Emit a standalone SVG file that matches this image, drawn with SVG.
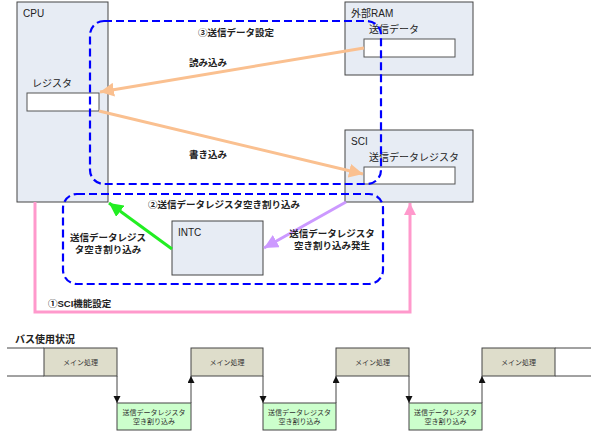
<svg xmlns="http://www.w3.org/2000/svg" width="597" height="435" viewBox="0 0 597 435">
<style>
text{font-family:"Liberation Sans","Noto Sans CJK JP",sans-serif;fill:#222}
.box{fill:#e7ecf4;stroke:#444;stroke-width:1}
.reg{fill:#fff;stroke:#555;stroke-width:1}
.lbl{font-size:10px}
.ann{font-size:9.5px;font-weight:bold}
.c{text-anchor:middle}
.dash{fill:none;stroke:#0000ff;stroke-width:2.2;stroke-dasharray:8 4}
.main{fill:#deddcb;stroke:#444;stroke-width:1}
.irq{fill:#ccffcc;stroke:#444;stroke-width:1}
.tl{font-size:7px;fill:#333}
.wire{fill:none;stroke:#444;stroke-width:1}
</style>
<defs>
<marker id="hOr" markerUnits="userSpaceOnUse" markerWidth="16" markerHeight="14" refX="14" refY="7" orient="auto"><path d="M0,0 L14,7 L0,14 Z" fill="#fac090"/></marker>
<marker id="hGr" markerUnits="userSpaceOnUse" markerWidth="16" markerHeight="14" refX="14" refY="7" orient="auto"><path d="M0,0 L14,7 L0,14 Z" fill="#22ee22"/></marker>
<marker id="hPu" markerUnits="userSpaceOnUse" markerWidth="16" markerHeight="14" refX="14" refY="7" orient="auto"><path d="M0,0 L14,7 L0,14 Z" fill="#cc99ff"/></marker>
<marker id="hPk" markerUnits="userSpaceOnUse" markerWidth="14" markerHeight="12" refX="12" refY="6" orient="auto"><path d="M0,0 L12,6 L0,12 Z" fill="#ff99cc"/></marker>
<marker id="hBk" markerUnits="userSpaceOnUse" markerWidth="8" markerHeight="8" refX="7" refY="3.5" orient="auto"><path d="M0,0 L7,3.5 L0,7 Z" fill="#111"/></marker>
</defs>

<g id="cpu">
<rect class="box" x="17" y="2" width="91" height="200"/>
<text class="lbl" x="23" y="17">CPU</text>
<text class="lbl" x="32" y="87">レジスタ</text>
<rect class="reg" x="27" y="93" width="72" height="18"/>
</g>
<g id="ram">
<rect class="box" x="345" y="2" width="128" height="73"/>
<text class="lbl" x="351" y="17">外部RAM</text>
<text class="lbl" x="369" y="33">送信データ</text>
<rect class="reg" x="364" y="39" width="91" height="18"/>
</g>
<g id="sci">
<rect class="box" x="345" y="130" width="128" height="72"/>
<text class="lbl" x="351" y="145">SCI</text>
<text class="lbl" x="369" y="161">送信データレジスタ</text>
<rect class="reg" x="364" y="167" width="91" height="17"/>
</g>
<g id="intc">
<rect class="box" x="172" y="221" width="91" height="54"/>
<text class="lbl" x="178" y="236">INTC</text>
</g>

<g id="connectors">
<line x1="364" y1="48" x2="100" y2="92" stroke="#fac090" stroke-width="3" marker-end="url(#hOr)"/>
<line x1="99" y1="111" x2="363" y2="174" stroke="#fac090" stroke-width="3" marker-end="url(#hOr)"/>
<line x1="172" y1="249" x2="109" y2="203" stroke="#22ee22" stroke-width="3" marker-end="url(#hGr)"/>
<line x1="346" y1="202" x2="264" y2="248" stroke="#cc99ff" stroke-width="3" marker-end="url(#hPu)"/>
<polyline points="35,202 35,312 410,312 410,203" fill="none" stroke="#ff99cc" stroke-width="3" marker-end="url(#hPk)"/>
</g>

<g id="group3">
<rect class="dash" x="90" y="21" width="291" height="163" rx="14" ry="14"/>
<text class="ann c" x="236" y="36">③送信データ設定</text>
<text class="ann c" x="208" y="66">読み込み</text>
<text class="ann c" x="208" y="158">書き込み</text>
</g>
<g id="group2">
<rect class="dash" x="63" y="194" width="320" height="90" rx="14" ry="14"/>
<text class="ann" x="148" y="208">②送信データレジスタ空き割り込み</text>
<text class="ann c" x="108" y="241">送信データレジス</text>
<text class="ann c" x="108" y="253">タ空き割り込み</text>
<text class="ann c" x="332" y="237">送信データレジスタ</text>
<text class="ann c" x="332" y="249">空き割り込み発生</text>
</g>
<text class="ann" x="48" y="307">①SCI機能設定</text>

<g id="timing">
<text x="15" y="343" style="font-size:10px;font-weight:bold">バス使用状況</text>
<line class="wire" x1="7" y1="348" x2="44" y2="348"/>
<line class="wire" x1="7" y1="376" x2="44" y2="376"/>
<rect class="main" x="44" y="348" width="73" height="28"/>
<rect class="irq" x="117" y="403" width="74" height="27"/>
<rect class="main" x="191" y="348" width="72" height="28"/>
<rect class="irq" x="263" y="403" width="73" height="27"/>
<rect class="main" x="336" y="348" width="73" height="28"/>
<rect class="irq" x="409" y="403" width="73" height="27"/>
<rect class="main" x="482" y="348" width="73" height="28"/>
<line class="wire" x1="555" y1="348" x2="591" y2="348"/>
<line class="wire" x1="555" y1="376" x2="591" y2="376"/>
<line class="wire" x1="117" y1="376" x2="117" y2="403" marker-end="url(#hBk)"/>
<line class="wire" x1="191" y1="403" x2="191" y2="376" marker-end="url(#hBk)"/>
<line class="wire" x1="263" y1="376" x2="263" y2="403" marker-end="url(#hBk)"/>
<line class="wire" x1="336" y1="403" x2="336" y2="376" marker-end="url(#hBk)"/>
<line class="wire" x1="409" y1="376" x2="409" y2="403" marker-end="url(#hBk)"/>
<line class="wire" x1="482" y1="403" x2="482" y2="376" marker-end="url(#hBk)"/>
<text class="tl c" x="80.5" y="365">メイン処理</text>
<text class="tl c" x="227" y="365">メイン処理</text>
<text class="tl c" x="372.5" y="365">メイン処理</text>
<text class="tl c" x="518.5" y="365">メイン処理</text>
<text class="tl c" x="154" y="414.5">送信データレジスタ</text>
<text class="tl c" x="154" y="424">空き割り込み</text>
<text class="tl c" x="299.5" y="414.5">送信データレジスタ</text>
<text class="tl c" x="299.5" y="424">空き割り込み</text>
<text class="tl c" x="445.5" y="414.5">送信データレジスタ</text>
<text class="tl c" x="445.5" y="424">空き割り込み</text>
</g>
</svg>
